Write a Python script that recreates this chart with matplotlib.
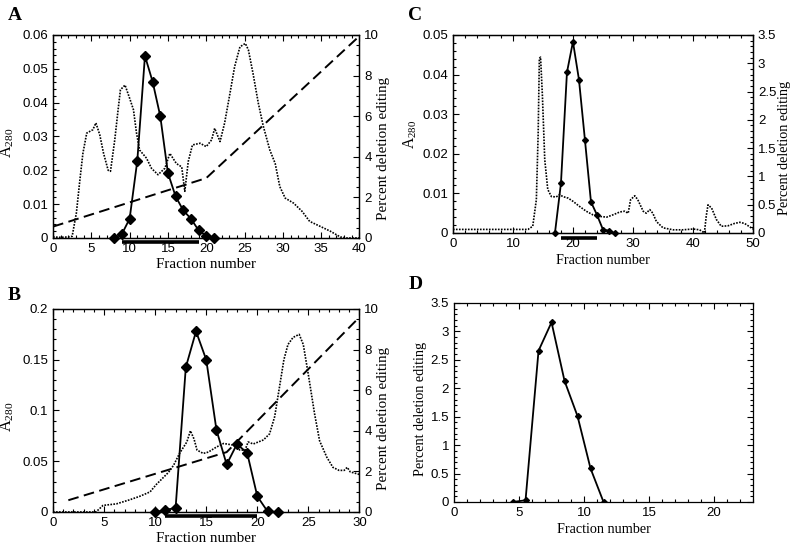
import matplotlib
matplotlib.use("Agg")
import matplotlib.pyplot as plt
from matplotlib.ticker import MultipleLocator, FuncFormatter
import matplotlib.transforms as mtransforms

plt.rcParams['font.family'] = ['Liberation Sans', 'DejaVu Sans']
plt.rcParams['mathtext.fontset'] = 'custom'
plt.rcParams['mathtext.rm'] = 'Liberation Serif'
plt.rcParams['mathtext.it'] = 'Liberation Serif:italic'

# ---------------- Data ----------------
# Panel A
a_frac = [0, 1, 2, 2.5, 3.05, 3.5, 3.9, 4.4, 5.2, 5.6, 6.1, 6.6, 7.2, 7.5, 8.06, 8.5, 8.8, 9.4, 10.0,
          10.5, 10.9, 11.3, 12.2, 12.85, 13.7, 14.6, 15.25, 16.1, 16.8, 17.2, 17.65, 18.2, 19.2, 20.0,
          20.7, 21.1, 21.8, 22.4, 23.1, 23.7, 24.4, 25.1, 25.5, 26.1, 26.8, 27.45, 28.3, 29.0, 29.6,
          30.3, 31.4, 32.5, 33.5, 34.9, 36.2, 37.5, 38.3, 39.2, 40]
a_a280 = [0.0003, 0.0002, 0.0003, 0.0005, 0.0074, 0.017, 0.025, 0.031, 0.032, 0.034, 0.0305, 0.025,
          0.020, 0.0197, 0.029, 0.038, 0.0438, 0.0452, 0.0413, 0.0379, 0.031, 0.026, 0.0236, 0.0206,
          0.0187, 0.0206, 0.025, 0.022, 0.021, 0.0138, 0.0226, 0.0275, 0.028, 0.027, 0.029, 0.0324,
          0.0285, 0.034, 0.0428, 0.0506, 0.0565, 0.0575, 0.0556, 0.0487, 0.0398, 0.033, 0.026, 0.022,
          0.0152, 0.0118, 0.0103, 0.0079, 0.0049, 0.0034, 0.002, 0.0003, 0.0, 0.0, 0.0]
a_edit_frac = [8, 9, 10, 11, 12, 13, 14, 15, 16, 17, 18, 19, 20, 21]
a_edit = [0, 0.2, 0.95, 3.8, 8.97, 7.7, 6.0, 3.2, 2.05, 1.36, 0.95, 0.38, 0.1, 0]
a_grad_frac = [0, 20, 40]
a_grad = [0.56, 2.95, 9.95]
a_pool = [9, 19]

# Panel B
b_frac = [0, 2, 4.2, 4.9, 6.2, 7.5, 8.5, 9.5, 10.1, 10.8, 11.3, 11.8, 12.4, 13.1, 13.45, 13.8, 14.1,
          14.7, 15.2, 16.0, 16.7, 17.6, 18.3, 18.8, 19.1, 19.6, 20.6, 21.2, 21.7, 22.2, 22.6, 23.0,
          23.5, 24.1, 24.5, 25.0, 25.6, 26.1, 26.8, 27.4, 28.0, 28.5, 28.8, 29.1, 30]
b_a280 = [0, 0, 0, 0.0065, 0.008, 0.012, 0.0155, 0.0198, 0.027, 0.034, 0.039, 0.046, 0.058, 0.069,
          0.080, 0.072, 0.061, 0.0577, 0.059, 0.064, 0.0675, 0.066, 0.061, 0.061, 0.069, 0.067,
          0.071, 0.077, 0.094, 0.125, 0.15, 0.165, 0.172, 0.175, 0.165, 0.135, 0.097, 0.07, 0.054,
          0.044, 0.041, 0.041, 0.044, 0.0395, 0.037]
b_edit_frac = [10, 11, 12, 13, 14, 15, 16, 17, 18, 19, 20, 21, 22]
b_edit = [0, 0.1, 0.2, 7.13, 8.9, 7.5, 4.04, 2.34, 3.34, 2.92, 0.77, 0.03, 0]
b_grad_frac = [1.5, 17, 30]
b_grad = [0.58, 2.95, 9.6]
b_pool = [11, 20]

# Panel C
c_frac = [0, 5, 10, 12.5, 13.3, 13.9, 14.2, 14.4, 14.6, 14.9, 15.3, 15.8, 16.4, 17.2, 17.8, 18.3,
          19.2, 20.0, 21.1, 22.2, 23.3, 24.4, 25.6, 26.7, 27.8, 28.6, 29.2, 29.6, 30.3, 30.8, 31.7,
          32.2, 32.8, 33.3, 33.9, 35, 36.7, 38.3, 40, 41.1, 41.9, 42.2, 42.5, 43.1, 43.9, 44.7,
          45.8, 46.9, 47.8, 48.6, 50]
c_a280 = [0.0009, 0.0009, 0.0009, 0.0009, 0.0017, 0.0084, 0.025, 0.0441, 0.0444, 0.035, 0.0185,
          0.011, 0.0092, 0.0091, 0.0097, 0.0092, 0.0088, 0.008, 0.0067, 0.0055, 0.0046, 0.0042,
          0.004, 0.0046, 0.0053, 0.0055, 0.005, 0.0084, 0.0094, 0.0084, 0.0055, 0.005, 0.0059,
          0.005, 0.0029, 0.0013, 0.0008, 0.0008, 0.001, 0.0008, 0.0, 0.0042, 0.0071, 0.0063,
          0.0034, 0.0017, 0.0018, 0.0024, 0.0027, 0.0024, 0.001]
c_edit_frac = [17, 18, 19, 20, 21, 22, 23, 24, 25, 26, 27]
c_edit = [0, 0.88, 2.84, 3.38, 2.71, 1.64, 0.55, 0.32, 0.06, 0.04, 0]
c_pool = [18, 24]

# Panel D
d_frac = [4.5, 5.5, 6.5, 7.5, 8.5, 9.5, 10.5, 11.5]
d_edit = [0, 0.03, 2.66, 3.16, 2.13, 1.51, 0.59, 0]

# ---------------- Figure ----------------
fig = plt.figure(figsize=(7.96, 5.5), dpi=100)

TICK_FS = 9.5
LAB_AB = 10.8
LAB_CD = 10.2
serif = ['Liberation Serif', 'DejaVu Serif']
gfmt = FuncFormatter(lambda v, p: '%g' % round(v, 6))


def style(ax, right=False, top=True):
    ax.tick_params(which='both', direction='in', top=top, right=right, labelsize=TICK_FS,
                   width=0.8)
    ax.tick_params(which='major', length=4)
    ax.tick_params(which='minor', length=2)
    for s in ax.spines.values():
        s.set_linewidth(0.9)


def pool_bar(ax, span, ypos):
    tr = mtransforms.blended_transform_factory(ax.transData, ax.transAxes)
    ax.plot(span, [ypos, ypos], color='black', lw=2.6, solid_capstyle='butt',
            transform=tr, clip_on=False)


dotted = (0, (1, 0.8))
dashed = (0, (5.5, 2.8))
DOT_LW = 1.2
DASH_LW = 1.4

# ---- Panel A ----
axA = fig.add_axes([0.0666, 0.5673, 0.385, 0.3691])
axA.plot(a_frac, a_a280, color='black', lw=DOT_LW, ls=dotted)
axA.set_xlim(0, 40)
axA.set_ylim(0, 0.06)
axA.xaxis.set_major_locator(MultipleLocator(5))
axA.xaxis.set_minor_locator(MultipleLocator(1))
axA.yaxis.set_major_locator(MultipleLocator(0.01))
axA.yaxis.set_minor_locator(MultipleLocator(0.002))
axA.yaxis.set_major_formatter(gfmt)
style(axA)
axA.set_ylabel(r'A$_{280}$', fontsize=LAB_AB + 1, family=serif, labelpad=2)
axA.yaxis.set_label_coords(-0.12, 0.47)
axA.set_xlabel('Fraction number', fontsize=LAB_AB, family=serif, labelpad=2)
tA = axA.twinx()
tA.plot(a_grad_frac, a_grad, color='black', lw=DASH_LW, ls=dashed)
tA.plot(a_edit_frac, a_edit, color='black', lw=1.3, marker='D', ms=5, clip_on=False)
tA.set_ylim(0, 10)
tA.yaxis.set_major_locator(MultipleLocator(2))
tA.yaxis.set_minor_locator(MultipleLocator(0.5))
style(tA, right=True)
tA.set_ylabel('Percent deletion editing', fontsize=LAB_AB, family=serif)
tA.yaxis.set_label_coords(1.058, 0.44)
pool_bar(axA, a_pool, -0.02)
fig.text(0.010, 0.963, 'A', fontsize=14, fontweight='bold', family=serif)

# ---- Panel B ----
axB = fig.add_axes([0.0666, 0.0691, 0.385, 0.3691])
axB.plot(b_frac, b_a280, color='black', lw=DOT_LW, ls=dotted)
axB.set_xlim(0, 30)
axB.set_ylim(0, 0.2)
axB.xaxis.set_major_locator(MultipleLocator(5))
axB.xaxis.set_minor_locator(MultipleLocator(1))
axB.yaxis.set_major_locator(MultipleLocator(0.05))
axB.yaxis.set_minor_locator(MultipleLocator(0.01))
axB.yaxis.set_major_formatter(gfmt)
style(axB)
axB.set_ylabel(r'A$_{280}$', fontsize=LAB_AB + 1, family=serif, labelpad=2)
axB.yaxis.set_label_coords(-0.12, 0.47)
axB.set_xlabel('Fraction number', fontsize=LAB_AB, family=serif, labelpad=2)
tB = axB.twinx()
tB.plot(b_grad_frac, b_grad, color='black', lw=DASH_LW, ls=dashed)
tB.plot(b_edit_frac, b_edit, color='black', lw=1.3, marker='D', ms=5, clip_on=False)
tB.set_ylim(0, 10)
tB.yaxis.set_major_locator(MultipleLocator(2))
tB.yaxis.set_minor_locator(MultipleLocator(0.5))
style(tB, right=True)
tB.set_ylabel('Percent deletion editing', fontsize=LAB_AB, family=serif)
tB.yaxis.set_label_coords(1.058, 0.46)
pool_bar(axB, b_pool, -0.02)
fig.text(0.010, 0.455, 'B', fontsize=14, fontweight='bold', family=serif)

# ---- Panel C ----
axC = fig.add_axes([0.569, 0.5764, 0.377, 0.36])
axC.plot(c_frac, c_a280, color='black', lw=DOT_LW, ls=dotted)
axC.set_xlim(0, 50)
axC.set_ylim(0, 0.05)
axC.xaxis.set_major_locator(MultipleLocator(10))
axC.xaxis.set_minor_locator(MultipleLocator(2))
axC.yaxis.set_major_locator(MultipleLocator(0.01))
axC.yaxis.set_minor_locator(MultipleLocator(0.002))
axC.yaxis.set_major_formatter(gfmt)
style(axC)
axC.set_ylabel(r'A$_{280}$', fontsize=LAB_CD + 1, family=serif, labelpad=2)
axC.set_xlabel('Fraction number', fontsize=LAB_CD, family=serif, labelpad=3)
tC = axC.twinx()
tC.plot(c_edit_frac, c_edit, color='black', lw=1.3, marker='D', ms=3, clip_on=False)
tC.set_ylim(0, 3.5)
tC.yaxis.set_major_locator(MultipleLocator(0.5))
tC.yaxis.set_minor_locator(MultipleLocator(0.1))
tC.yaxis.set_major_formatter(gfmt)
style(tC, right=True)
tC.set_ylabel('Percent deletion editing', fontsize=LAB_CD, family=serif)
tC.yaxis.set_label_coords(1.082, 0.43)
pool_bar(axC, c_pool, -0.025)
fig.text(0.513, 0.963, 'C', fontsize=14, fontweight='bold', family=serif)

# ---- Panel D ----
axD = fig.add_axes([0.5704, 0.0873, 0.3756, 0.3618])
axD.plot(d_frac, d_edit, color='black', lw=1.3, marker='D', ms=3)
axD.set_xlim(0, 23)
axD.set_ylim(0, 3.5)
axD.xaxis.set_major_locator(MultipleLocator(5))
axD.xaxis.set_minor_locator(MultipleLocator(1))
axD.yaxis.set_major_locator(MultipleLocator(0.5))
axD.yaxis.set_minor_locator(MultipleLocator(0.1))
axD.yaxis.set_major_formatter(gfmt)
style(axD, right=True)
axD.set_ylabel('Percent deletion editing', fontsize=LAB_CD, family=serif)
axD.yaxis.set_label_coords(-0.09, 0.47)
axD.set_xlabel('Fraction number', fontsize=LAB_CD, family=serif, labelpad=3)
fig.text(0.513, 0.475, 'D', fontsize=14, fontweight='bold', family=serif)

fig.savefig('out.png', dpi=100)
